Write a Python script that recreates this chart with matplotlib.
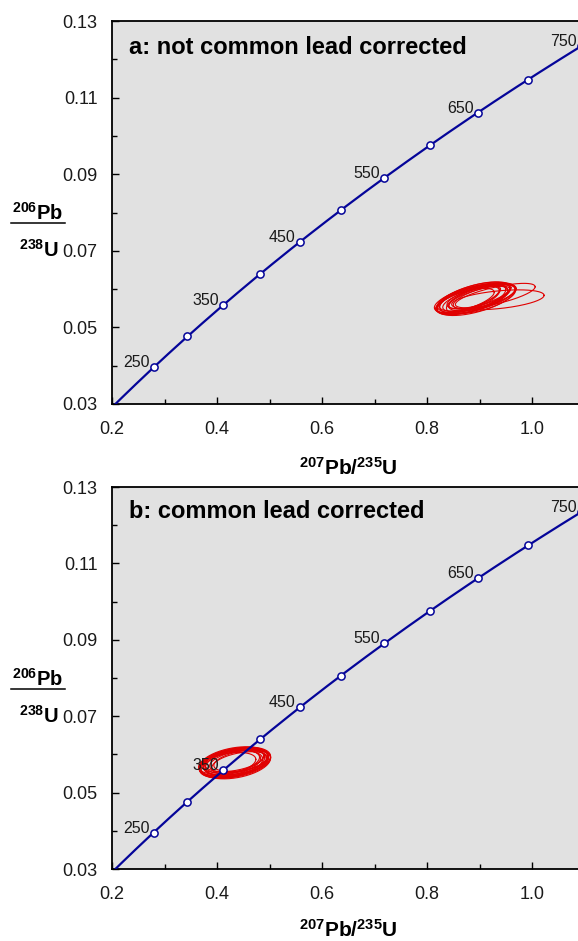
import numpy as np
import matplotlib
matplotlib.use("Agg")
import matplotlib.pyplot as plt
from matplotlib.lines import Line2D
from matplotlib.ticker import MultipleLocator, FixedFormatter

plt.rcParams['font.family'] = ['Liberation Sans', 'DejaVu Sans']
plt.rcParams['mathtext.fontset'] = 'custom'
plt.rcParams['mathtext.rm'] = 'Liberation Sans'
plt.rcParams['mathtext.bf'] = 'Liberation Sans:bold'

# ---------------- data ----------------
# decay constants (per year) used for the concordia
lambda_238 = 1.55125e-10
lambda_235 = 9.8485e-10
curve_ages_ma = [150, 800]                      # age range of concordia curve
marker_ages = [250, 300, 350, 400, 450, 500, 550, 600, 650, 700, 750]
label_ages = [250, 350, 450, 550, 650, 750]

panel_titles = ["a: not common lead corrected", "b: common lead corrected"]

# panel a: error ellipses (centre, 1-sigma, correlation)
a_x = [0.872, 0.878, 0.884, 0.888, 0.892, 0.896, 0.900, 0.905, 0.910, 0.886, 0.894, 0.898, 0.882, 0.903, 0.890, 0.876, 0.930, 0.935]
a_y = [0.0570, 0.0572, 0.0574, 0.0576, 0.0575, 0.0577, 0.0578, 0.0579, 0.0580, 0.0571, 0.0573, 0.0581, 0.0577, 0.0574, 0.0579, 0.0575, 0.0583, 0.0572]
a_sx = [0.028, 0.030, 0.033, 0.035, 0.031, 0.036, 0.029, 0.032, 0.030, 0.034, 0.037, 0.030, 0.029, 0.033, 0.035, 0.031, 0.038, 0.044]
a_sy = [0.0016, 0.0018, 0.0020, 0.0021, 0.0017, 0.0020, 0.0015, 0.0018, 0.0016, 0.0019, 0.0021, 0.0016, 0.0017, 0.0019, 0.0020, 0.0018, 0.0016, 0.0013]
a_rho = [0.68, 0.65, 0.62, 0.60, 0.66, 0.61, 0.70, 0.64, 0.67, 0.63, 0.60, 0.68, 0.66, 0.62, 0.61, 0.65, 0.72, 0.45]

# panel b: error ellipses after common lead correction
b_x = [0.420, 0.425, 0.429, 0.432, 0.435, 0.438, 0.442, 0.446, 0.427, 0.431, 0.436, 0.440, 0.433, 0.423, 0.444, 0.430, 0.437, 0.434]
b_y = [0.0575, 0.0577, 0.0579, 0.0580, 0.0578, 0.0581, 0.0582, 0.0583, 0.0574, 0.0583, 0.0576, 0.0579, 0.0585, 0.0580, 0.0577, 0.0576, 0.0584, 0.0578]
b_sx = [0.027, 0.029, 0.031, 0.033, 0.030, 0.032, 0.028, 0.026, 0.030, 0.029, 0.033, 0.031, 0.028, 0.029, 0.027, 0.032, 0.030, 0.034]
b_sy = [0.0015, 0.0017, 0.0019, 0.0020, 0.0016, 0.0019, 0.0015, 0.0014, 0.0018, 0.0016, 0.0020, 0.0018, 0.0015, 0.0016, 0.0015, 0.0019, 0.0017, 0.0020]
b_rho = [0.40, 0.38, 0.36, 0.35, 0.39, 0.37, 0.41, 0.42, 0.38, 0.40, 0.35, 0.37, 0.40, 0.39, 0.41, 0.36, 0.38, 0.35]

x_ticks = [0.2, 0.4, 0.6, 0.8, 1.0, 1.2]
x_tick_labels = ['0.2', '0.4', '0.6', '0.8', '1.0', '']
y_ticks = [0.03, 0.05, 0.07, 0.09, 0.11, 0.13]
y_tick_labels = ['0.03', '0.05', '0.07', '0.09', '0.11', '0.13']

# ---------------- helpers ----------------
def concordia(age_ma):
    t = np.asarray(age_ma, dtype=float) * 1e6
    return np.exp(lambda_235 * t) - 1.0, np.exp(lambda_238 * t) - 1.0

def ellipse_xy(cx, cy, sx, sy, rho, k=2.0, n=200):
    th = np.linspace(0, 2 * np.pi, n)
    ex = cx + k * sx * np.cos(th)
    ey = cy + k * sy * (rho * np.cos(th) + np.sqrt(1 - rho ** 2) * np.sin(th))
    return ex, ey

NAVY = '#050599'
RED = '#e00000'
BG = '#e1e1e1'

W, H = 578, 941
fig = plt.figure(figsize=(W / 100, H / 100), dpi=100)

panels = [
    dict(top=21, bottom=404, ell=(a_x, a_y, a_sx, a_sy, a_rho), title_y=0.914, xl=475),
    dict(top=487, bottom=869, ell=(b_x, b_y, b_sx, b_sy, b_rho), title_y=0.920, xl=937),
]

left_px = 112
px_per_unit = 525.0
for i, p in enumerate(panels):
    axw = (x_ticks[-1] - x_ticks[0]) * px_per_unit / W
    ax = fig.add_axes([left_px / W, 1 - p['bottom'] / H, axw, (p['bottom'] - p['top']) / H])
    ax.set_facecolor(BG)
    ax.set_xlim(x_ticks[0], x_ticks[-1])
    ax.set_ylim(y_ticks[0], y_ticks[-1])

    # ellipses
    for cx, cy, sx, sy, r in zip(*p['ell']):
        ex, ey = ellipse_xy(cx, cy, sx, sy, r)
        ax.plot(ex, ey, color=RED, lw=0.8, zorder=2)

    # concordia curve
    ages = np.linspace(curve_ages_ma[0], curve_ages_ma[1], 400)
    cxs, cys = concordia(ages)
    ax.plot(cxs, cys, color=NAVY, lw=1.6, zorder=3)
    mx, my = concordia(marker_ages)
    ax.plot(mx, my, 'o', ms=5.2, mfc='white', mec=NAVY, mew=1.1, zorder=4, clip_on=False)
    lx, ly = concordia(label_ages)
    for a, x, y in zip(label_ages, lx, ly):
        ax.annotate(str(a), (x, y), xytext=(-3, 0), textcoords='offset points',
                    ha='right', va='baseline', fontsize=11.5, color='#1a1a1a',
                    zorder=5, annotation_clip=False)

    ax.set_xticks(x_ticks)
    ax.set_yticks(y_ticks)
    ax.xaxis.set_major_formatter(FixedFormatter(x_tick_labels))
    ax.yaxis.set_major_formatter(FixedFormatter(y_tick_labels))
    ax.xaxis.set_minor_locator(MultipleLocator(0.1))
    ax.yaxis.set_minor_locator(MultipleLocator(0.01))
    ax.tick_params(which='both', direction='in', color='black', width=1.0,
                   labelsize=13, labelcolor='#1a1a1a')
    ax.tick_params(which='major', length=5)
    ax.tick_params(which='minor', length=3.5)
    ax.tick_params(axis='x', which='major', pad=12)
    ax.tick_params(axis='y', which='major', pad=10.5)
    for s in ax.spines.values():
        s.set_linewidth(1.3)
        s.set_color('black')

    ax.text(0.032, p['title_y'], panel_titles[i], transform=ax.transAxes,
            fontsize=17, fontweight='bold', ha='left', va='baseline', color='black')

    off = p['top'] - 21
    # x label
    fig.text(348 / W, 1 - p['xl'] / H, r'$\mathbf{^{207}Pb/^{235}U}$',
             fontsize=15, ha='center', va='baseline')
    # y label as fraction
    fig.text(12 / W, 1 - (219.5 + off) / H, r'$\mathbf{^{206}Pb}$',
             fontsize=14.5, ha='left', va='baseline')
    fig.add_artist(Line2D([11 / W, 65 / W], [1 - (222.5 + off) / H] * 2,
                          color='black', lw=1.1, transform=fig.transFigure))
    fig.text(19 / W, 1 - (257 + off) / H, r'$\mathbf{^{238}U}$',
             fontsize=14.5, ha='left', va='baseline')

fig.savefig('out.png', dpi=100, facecolor='white')
